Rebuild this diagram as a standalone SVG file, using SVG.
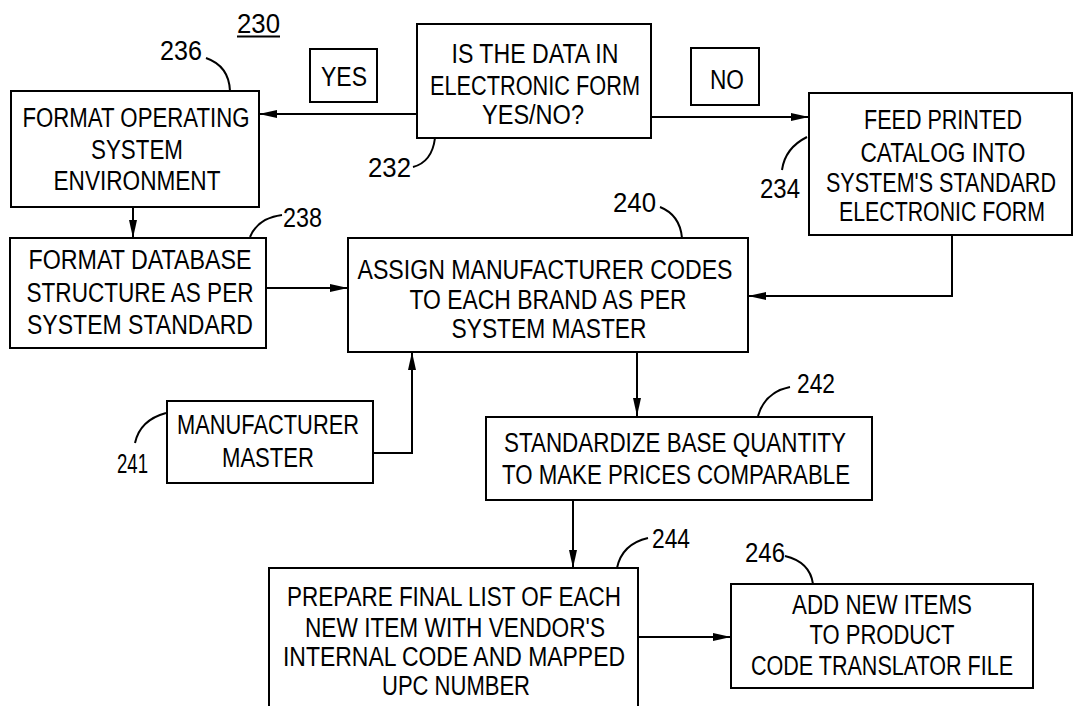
<svg xmlns="http://www.w3.org/2000/svg" width="1075" height="706" viewBox="0 0 1075 706">
<style>
  .box { fill: #fff; stroke: #000; stroke-width: 2; }
  .t { font-family: "Liberation Sans", Arial, sans-serif; font-size: 27px; fill: #000; text-anchor: middle; }
  .n { font-family: "Liberation Sans", Arial, sans-serif; font-size: 27px; fill: #000; }
  .c { fill: none; stroke: #000; stroke-width: 2; }
  .ld { fill: none; stroke: #000; stroke-width: 2; }
</style>
<defs>
  <marker id="ah" viewBox="0 0 18 10" refX="18" refY="5" markerWidth="18" markerHeight="10" markerUnits="userSpaceOnUse" orient="auto">
    <path d="M0,1 L18,5 L0,9 Z" fill="#000"/>
  </marker>
</defs>
<rect width="1075" height="706" fill="#fff"/>

<g id="ref230">
  <text class="n" x="237" y="33" textLength="43" lengthAdjust="spacingAndGlyphs">230</text>
  <line x1="237" y1="36.5" x2="280" y2="36.5" stroke="#000" stroke-width="2"/>
</g>

<g id="connectors">
  <line class="c" x1="417" y1="114" x2="259" y2="114" marker-end="url(#ah)"/>
  <line class="c" x1="651" y1="117" x2="809" y2="117" marker-end="url(#ah)"/>
  <line class="c" x1="133" y1="207" x2="133" y2="238" marker-end="url(#ah)"/>
  <line class="c" x1="266" y1="288" x2="348" y2="288" marker-end="url(#ah)"/>
  <polyline class="c" points="952,235 952,296 748,296" marker-end="url(#ah)"/>
  <polyline class="c" points="373,453 412,453 412,352" marker-end="url(#ah)"/>
  <line class="c" x1="637" y1="352" x2="637" y2="416" marker-end="url(#ah)"/>
  <line class="c" x1="573" y1="500" x2="573" y2="568" marker-end="url(#ah)"/>
  <line class="c" x1="638" y1="637" x2="731" y2="637" marker-end="url(#ah)"/>
</g>

<g id="yes">
  <rect class="box" x="310" y="49" width="67" height="53"/>
  <text class="t" x="344" y="86" textLength="46" lengthAdjust="spacingAndGlyphs">YES</text>
</g>

<g id="no">
  <rect class="box" x="691" y="48" width="68" height="57"/>
  <text class="t" x="727" y="89" textLength="34" lengthAdjust="spacingAndGlyphs">NO</text>
</g>

<g id="n232">
  <rect class="box" x="417" y="24" width="234" height="114"/>
  <text class="t" x="535" y="63" textLength="167" lengthAdjust="spacingAndGlyphs">IS THE DATA IN</text>
  <text class="t" x="535" y="95" textLength="210" lengthAdjust="spacingAndGlyphs">ELECTRONIC FORM</text>
  <text class="t" x="533" y="124" textLength="102" lengthAdjust="spacingAndGlyphs">YES/NO?</text>
  <path class="ld" d="M413,167 Q432,162 435,138"/>
  <text class="n" x="368" y="177" textLength="43" lengthAdjust="spacingAndGlyphs">232</text>
</g>

<g id="n236">
  <rect class="box" x="11" y="91" width="248" height="116"/>
  <text class="t" x="136" y="127" textLength="227" lengthAdjust="spacingAndGlyphs">FORMAT OPERATING</text>
  <text class="t" x="137" y="159" textLength="92" lengthAdjust="spacingAndGlyphs">SYSTEM</text>
  <text class="t" x="137" y="190" textLength="167" lengthAdjust="spacingAndGlyphs">ENVIRONMENT</text>
  <path class="ld" d="M206,58 Q229,66 230,91"/>
  <text class="n" x="160" y="60" textLength="42" lengthAdjust="spacingAndGlyphs">236</text>
</g>

<g id="n234">
  <rect class="box" x="809" y="93" width="263" height="142"/>
  <text class="t" x="943" y="129" textLength="158" lengthAdjust="spacingAndGlyphs">FEED PRINTED</text>
  <text class="t" x="943" y="162" textLength="165" lengthAdjust="spacingAndGlyphs">CATALOG INTO</text>
  <text class="t" x="941" y="192" textLength="230" lengthAdjust="spacingAndGlyphs">SYSTEM'S STANDARD</text>
  <text class="t" x="942" y="221" textLength="206" lengthAdjust="spacingAndGlyphs">ELECTRONIC FORM</text>
  <path class="ld" d="M807,137 Q785,148 782,170"/>
  <text class="n" x="760" y="198" textLength="40" lengthAdjust="spacingAndGlyphs">234</text>
</g>

<g id="n238">
  <rect class="box" x="10" y="238" width="256" height="110"/>
  <text class="t" x="140" y="269" textLength="223" lengthAdjust="spacingAndGlyphs">FORMAT DATABASE</text>
  <text class="t" x="140" y="302" textLength="227" lengthAdjust="spacingAndGlyphs">STRUCTURE AS PER</text>
  <text class="t" x="140" y="334" textLength="226" lengthAdjust="spacingAndGlyphs">SYSTEM STANDARD</text>
  <path class="ld" d="M250,237 Q258,218 282,215"/>
  <text class="n" x="283" y="227" textLength="39" lengthAdjust="spacingAndGlyphs">238</text>
</g>

<g id="n240">
  <rect class="box" x="348" y="238" width="400" height="114"/>
  <text class="t" x="545" y="279" textLength="375" lengthAdjust="spacingAndGlyphs">ASSIGN MANUFACTURER CODES</text>
  <text class="t" x="548" y="309" textLength="277" lengthAdjust="spacingAndGlyphs">TO EACH BRAND AS PER</text>
  <text class="t" x="549" y="338" textLength="195" lengthAdjust="spacingAndGlyphs">SYSTEM MASTER</text>
  <path class="ld" d="M660,207 Q680,215 682,238"/>
  <text class="n" x="613" y="212" textLength="43" lengthAdjust="spacingAndGlyphs">240</text>
</g>

<g id="n241">
  <rect class="box" x="167" y="401" width="206" height="82"/>
  <text class="t" x="268" y="434" textLength="182" lengthAdjust="spacingAndGlyphs">MANUFACTURER</text>
  <text class="t" x="268" y="467" textLength="92" lengthAdjust="spacingAndGlyphs">MASTER</text>
  <path class="ld" d="M166,413 Q140,420 135,443"/>
  <text class="n" x="117" y="473" textLength="31" lengthAdjust="spacingAndGlyphs">241</text>
</g>

<g id="n242">
  <rect class="box" x="486" y="417" width="386" height="83"/>
  <text class="t" x="675" y="452" textLength="342" lengthAdjust="spacingAndGlyphs">STANDARDIZE BASE QUANTITY</text>
  <text class="t" x="676" y="484" textLength="348" lengthAdjust="spacingAndGlyphs">TO MAKE PRICES COMPARABLE</text>
  <path class="ld" d="M758,416 Q765,392 790,387"/>
  <text class="n" x="797" y="393" textLength="38" lengthAdjust="spacingAndGlyphs">242</text>
</g>

<g id="n244">
  <rect class="box" x="269" y="568" width="369" height="160"/>
  <text class="t" x="454" y="606" textLength="334" lengthAdjust="spacingAndGlyphs">PREPARE FINAL LIST OF EACH</text>
  <text class="t" x="455" y="637" textLength="300" lengthAdjust="spacingAndGlyphs">NEW ITEM WITH VENDOR'S</text>
  <text class="t" x="454" y="666" textLength="342" lengthAdjust="spacingAndGlyphs">INTERNAL CODE AND MAPPED</text>
  <text class="t" x="456" y="695" textLength="148" lengthAdjust="spacingAndGlyphs">UPC NUMBER</text>
  <path class="ld" d="M617,568 Q622,544 648,538"/>
  <text class="n" x="652" y="548" textLength="38" lengthAdjust="spacingAndGlyphs">244</text>
</g>

<g id="n246">
  <rect class="box" x="731" y="584" width="302" height="104"/>
  <text class="t" x="882" y="614" textLength="180" lengthAdjust="spacingAndGlyphs">ADD NEW ITEMS</text>
  <text class="t" x="882" y="644" textLength="145" lengthAdjust="spacingAndGlyphs">TO PRODUCT</text>
  <text class="t" x="882" y="675" textLength="262" lengthAdjust="spacingAndGlyphs">CODE TRANSLATOR FILE</text>
  <path class="ld" d="M785,556 Q810,562 813,584"/>
  <text class="n" x="745" y="562" textLength="40" lengthAdjust="spacingAndGlyphs">246</text>
</g>
</svg>
